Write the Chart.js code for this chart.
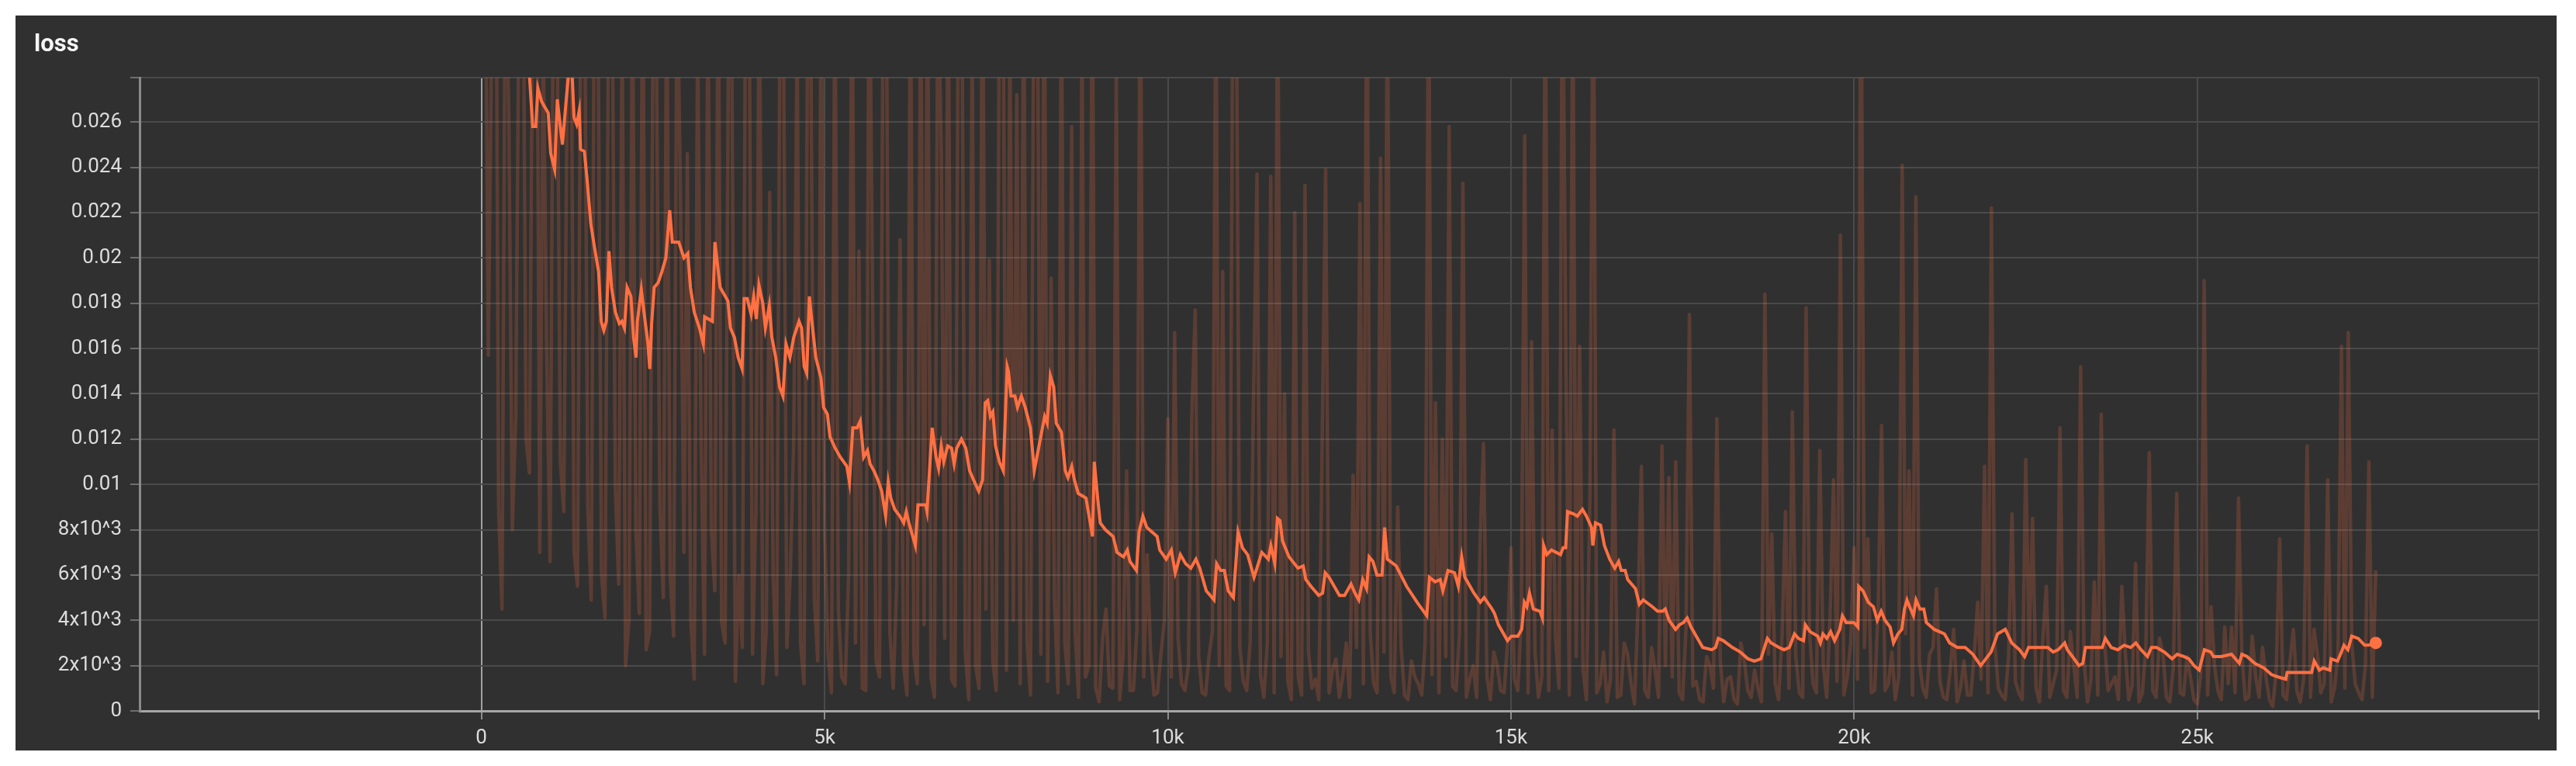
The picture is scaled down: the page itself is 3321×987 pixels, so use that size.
<!DOCTYPE html>
<html>
<head>
<meta charset="utf-8">
<title>loss</title>
<script src="https://cdn.jsdelivr.net/npm/chart.js@4.4.1/dist/chart.umd.min.js"></script>
<style>
  html, body { margin: 0; padding: 0; background: #ffffff; }
  #panel {
    position: absolute; left: 20px; top: 20px;
    width: 3276px; height: 947px; background: #303030;
  }
  #title {
    position: absolute; left: 24px; top: 20px;
    font-family: Roboto, "Noto Sans", sans-serif; font-size: 31px; font-weight: 700;
    line-height: 31px; color: #f5f5f5;
  }
  #chartBox { position: absolute; left: 0; top: 0; width: 3276px; height: 947px; }
</style>
</head>
<body>
<div id="panel">
  <div id="chartBox"><canvas id="lossChart"></canvas></div>
  <div id="title">loss</div>
</div>
<script>
// loss values are written in units of 1e-3
const MILLI = 1e-3;

// raw loss, one value every 100 steps, from step 0
const RAW_STEP = 100;
const rawLoss = [
  60, 15.7, 45, 4.5, 26, 13, 38, 10.5, 40, 30,
  6.6, 32, 8.8, 36, 5.5, 34, 4.9, 30, 4.1, 35,
  5.6, 2.0, 33, 4.3, 2.7, 30, 9, 33, 3.3, 22.8,
  24.6, 1.4, 12, 32, 5.3, 3.9, 30, 1.3, 2.8, 33,
  9, 1.2, 22.9, 1.6, 31, 6, 30, 1.2, 29, 2.2,
  8, 0.8, 4.5, 1.2, 35, 20.3, 0.9, 17.9, 1.5, 32,
  1.0, 20.8, 0.7, 2.5, 33, 34, 0.6, 24.6, 35, 1.1,
  32, 0.5, 2.0, 36, 19.9, 0.9, 33, 30, 27.2, 34,
  0.7, 33, 35, 19.1, 0.8, 3, 25.8, 0.6, 1.5, 34,
  0.4, 4.5, 1.0, 0.5, 10.6, 0.9, 35, 6.9, 0.7, 2.5,
  12.9, 16.7, 1.2, 2.0, 17.7, 0.8, 2.4, 33, 19.4, 0.9,
  32, 1.3, 3.0, 23.7, 0.6, 23.6, 34, 14.0, 0.5, 1.5,
  23.2, 1.0, 0.5, 23.9, 1.8, 0.6, 3.0, 10.4, 22.4, 35,
  1.2, 24.4, 33, 0.8, 2.8, 0.5, 1.5, 0.7, 34, 13.6,
  12.0, 25.8, 0.9, 23.3, 1.4, 0.6, 11.8, 0.5, 2.0, 0.8,
  7.2, 0.9, 25.4, 16.3, 0.6, 34, 12.4, 1.0, 15.7, 33,
  16.1, 0.5, 35, 1.2, 0.4, 12.4, 0.7, 2.5, 0.3, 10.8,
  0.6, 1.8, 11.7, 10.3, 11.0, 0.5, 17.5, 1.3, 0.4, 2.0,
  12.9, 0.4, 1.5, 0.3, 2.2, 0.6, 1.0, 18.4, 7.8, 0.5,
  8.8, 13.2, 0.8, 17.8, 1.2, 11.5, 0.6, 10.2, 21.0, 1.5,
  7.2, 35, 7.6, 0.9, 12.6, 1.2, 0.5, 24.1, 10.6, 22.7,
  1.0, 2.5, 5.4, 0.6, 1.8, 0.4, 2.2, 0.7, 4.8, 10.8,
  22.2, 1.0, 0.5, 8.7, 0.8, 11.1, 8.5, 0.4, 5.5, 1.2,
  12.5, 0.6, 2.0, 15.2, 0.4, 5.7, 13.1, 0.9, 1.5, 5.5,
  0.5, 6.5, 0.8, 11.4, 0.6, 2.5, 0.4, 9.6, 0.7, 1.5,
  0.3, 19.0, 4.6, 0.9, 3.7, 3.7, 9.4, 0.5, 3.3, 0.6,
  1.5, 0.2, 7.6, 0.5, 3.6, 0.4, 11.7, 3.6, 0.8, 10.2,
  1.0, 16.1, 16.7, 1.2, 0.5, 11.0, 6.2
];
// raw loss at the steps in between (50, 150, 250, ...)
const rawLossHalf = [
  38, 30, 9, 35, 8, 33, 12, 34, 7, 16,
  34, 11, 28, 7, 33, 9, 36, 6, 30, 10,
  31, 4, 8, 35, 3.5, 29, 5, 6, 33, 7,
  4, 30, 2.5, 8, 34, 3, 28, 6, 33, 2.5,
  34, 3.5, 6, 31, 2.8, 12, 3, 29, 5, 33,
  2.5, 33, 1.5, 6, 3, 1.0, 35, 2.2, 30, 3.5,
  5.5, 2.0, 34, 1.2, 3.8, 1.5, 33, 3.2, 1.4, 34,
  2.6, 30, 1.0, 4.5, 2.2, 35, 1.8, 4.0, 1.2, 3.0,
  34, 2.5, 1.3, 4.8, 33, 1.2, 3.5, 30, 2.0, 1.0,
  3.2, 1.1, 28, 2.5, 0.9, 3.6, 1.5, 2.6, 0.8, 4.0,
  1.5, 3.2, 0.9, 13, 2.4, 0.7, 3.5, 2.0, 1.1, 34,
  2.8, 0.9, 14, 1.6, 3.0, 0.8, 2.4, 1.3, 22, 0.7,
  2.6, 1.4, 12, 0.8, 2.3, 1.5, 0.6, 2.8, 1.2, 3.4,
  0.8, 2.6, 1.5, 9, 0.7, 2.2, 1.2, 3.0, 1.6, 0.8,
  2.4, 1.1, 3.4, 0.6, 2.0, 7.5, 1.5, 2.6, 0.9, 3.0,
  1.4, 4.0, 0.8, 2.6, 1.5, 0.9, 3.2, 35, 0.7, 2.4,
  1.8, 9.5, 0.8, 2.6, 1.4, 0.6, 3.0, 1.2, 4.5, 0.9,
  2.8, 0.6, 2.0, 1.5, 0.8, 3.6, 1.1, 0.5, 2.4, 1.0,
  2.2, 1.4, 0.5, 3.0, 0.9, 1.8, 0.4, 2.5, 1.2, 3.3,
  1.0, 2.4, 0.6, 3.5, 0.8, 2.0, 4.2, 1.3, 0.7, 3.0,
  1.4, 2.8, 0.8, 4.5, 0.9, 2.6, 1.5, 3.4, 0.7, 2.2,
  0.6, 2.8, 1.3, 0.5, 3.6, 1.0, 0.7, 2.5, 1.4, 0.8,
  3.0, 0.7, 2.4, 1.3, 0.5, 2.8, 1.0, 3.2, 0.6, 1.8,
  0.9, 3.5, 0.6, 2.2, 1.4, 0.7, 3.0, 1.2, 0.5, 2.6,
  1.1, 0.4, 2.8, 0.9, 3.2, 0.6, 1.9, 0.8, 2.4, 0.5,
  1.6, 0.7, 2.0, 0.5, 1.2, 0.8, 2.4, 0.6, 1.5, 2.8,
  0.5, 1.8, 0.7, 2.2, 0.9, 1.4, 0.6, 2.5, 1.2, 0.4,
  2.5, 1.0, 3.0, 0.8, 2.0, 0.6
];

// smoothed loss, read at its corners
const smoothSteps = [
  0, 150, 300, 450, 600, 690, 747, 792, 822, 878, 973, 1010, 1067, 1105, 1180, 1236, 1285, 1319, 1349, 1387,
  1425, 1444, 1500, 1538, 1594, 1651, 1707, 1745, 1783, 1820, 1858, 1896, 1952, 2009, 2046, 2084, 2122, 2178, 2216, 2253,
  2272, 2329, 2385, 2423, 2453, 2480, 2517, 2574, 2630, 2687, 2743, 2781, 2875, 2951, 3007, 3045, 3101, 3177, 3233, 3252,
  3365, 3402, 3478, 3591, 3628, 3685, 3741, 3798, 3828, 3873, 3930, 3967, 4005, 4043, 4099, 4137, 4194, 4231, 4288, 4344,
  4393, 4438, 4495, 4551, 4627, 4665, 4702, 4740, 4778, 4815, 4872, 4947, 4985, 5041, 5079, 5154, 5230, 5324, 5362, 5411,
  5475, 5520, 5569, 5625, 5663, 5719, 5776, 5832, 5889, 5927, 5964, 6021, 6096, 6153, 6190, 6228, 6322, 6360, 6473, 6492,
  6567, 6624, 6661, 6699, 6737, 6793, 6850, 6887, 6925, 6993, 7057, 7113, 7170, 7245, 7302, 7339, 7377, 7415, 7452, 7490,
  7546, 7603, 7660, 7678, 7716, 7773, 7810, 7867, 7923, 7999, 8055, 8149, 8206, 8243, 8289, 8338, 8375, 8451, 8507, 8545,
  8601, 8639, 8696, 8808, 8865, 8903, 8929, 8978, 9016, 9091, 9204, 9260, 9355, 9411, 9449, 9543, 9581, 9637, 9694, 9845,
  9883, 9977, 10052, 10109, 10184, 10259, 10335, 10410, 10466, 10561, 10674, 10711, 10768, 10824, 10881, 10956, 11024, 11088, 11163, 11257,
  11370, 11465, 11502, 11559, 11597, 11634, 11672, 11766, 11898, 11973, 12011, 12086, 12199, 12256, 12293, 12350, 12501, 12576, 12670, 12727,
  12783, 12840, 12896, 12934, 12990, 13047, 13122, 13160, 13198, 13329, 13480, 13631, 13774, 13812, 13895, 13970, 14008, 14083, 14177, 14233,
  14282, 14328, 14460, 14554, 14610, 14723, 14761, 14818, 14950, 15006, 15100, 15157, 15195, 15232, 15270, 15326, 15421, 15458, 15477, 15522,
  15590, 15722, 15760, 15797, 15824, 15910, 15967, 16042, 16099, 16174, 16193, 16231, 16306, 16362, 16438, 16513, 16569, 16607, 16664, 16701,
  16814, 16871, 16927, 17059, 17135, 17210, 17248, 17304, 17398, 17455, 17512, 17568, 17624, 17700, 17794, 17926, 17982, 18020, 18095, 18227,
  18340, 18453, 18547, 18642, 18736, 18792, 18905, 18980, 19056, 19131, 19188, 19263, 19289, 19357, 19470, 19508, 19546, 19602, 19658, 19715,
  19791, 19829, 19885, 19942, 19998, 20055, 20066, 20130, 20205, 20281, 20337, 20394, 20450, 20525, 20574, 20638, 20695, 20733, 20770, 20808,
  20865, 20902, 20959, 21015, 21053, 21166, 21241, 21316, 21392, 21505, 21618, 21731, 21844, 21919, 21995, 22089, 22202, 22296, 22409, 22484,
  22541, 22635, 22710, 22823, 22899, 22974, 23068, 23106, 23181, 23275, 23332, 23370, 23445, 23539, 23615, 23660, 23746, 23841, 23935, 24029,
  24104, 24180, 24274, 24331, 24406, 24519, 24632, 24707, 24802, 24877, 24952, 25028, 25103, 25197, 25235, 25348, 25498, 25612, 25649, 25725,
  25838, 25969, 26082, 26177, 26290, 26308, 26403, 26516, 26666, 26704, 26779, 26836, 26930, 26949, 27043, 27100, 27137, 27194, 27250, 27344,
  27438, 27495, 27600
];
const smoothLoss = [
  60, 48, 40, 34, 30.5, 28.5, 25.8, 25.8, 27.5, 26.9, 26.4, 24.6, 23.9, 27.0, 25.0, 27.0, 28.6, 28.3, 26.2, 25.9,
  26.5, 24.8, 24.7, 23.5, 21.5, 20.4, 19.4, 17.2, 16.8, 17.2, 20.3, 18.7, 17.6, 17.1, 17.2, 16.9, 18.7, 18.3, 16.5, 15.6,
  17.2, 18.6, 17.2, 16.3, 15.1, 17.1, 18.7, 18.9, 19.4, 20.0, 22.1, 20.7, 20.7, 20.0, 20.2, 18.7, 17.6, 16.9, 16.2, 17.4,
  17.2, 20.7, 18.7, 18.1, 16.9, 16.5, 15.6, 15.1, 18.2, 18.2, 17.5, 18.3, 17.3, 18.8, 18.0, 16.9, 17.9, 16.5, 15.6, 14.3,
  13.9, 16.2, 15.6, 16.5, 17.2, 16.9, 15.2, 14.9, 18.3, 17.2, 15.6, 14.7, 13.4, 13.1, 12.1, 11.6, 11.2, 10.8, 10.1, 12.5,
  12.5, 12.8, 11.2, 11.5, 10.9, 10.6, 10.2, 9.7, 8.6, 10.1, 9.4, 8.9, 8.6, 8.3, 8.8, 8.3, 7.3, 9.1, 9.1, 8.8,
  12.5, 11.2, 10.7, 11.7, 11.0, 11.7, 11.6, 10.9, 11.6, 12.0, 11.6, 10.6, 10.2, 9.7, 10.2, 13.6, 13.7, 13.0, 13.2, 11.7,
  11.0, 10.6, 15.2, 15.0, 13.9, 13.9, 13.4, 13.9, 13.4, 12.5, 10.6, 12.1, 13.0, 12.7, 14.8, 14.3, 12.7, 12.3, 10.6, 10.3,
  10.8, 10.2, 9.6, 9.4, 8.4, 7.7, 11.0, 9.4, 8.3, 8.0, 7.7, 7.0, 6.8, 7.1, 6.6, 6.2, 7.9, 8.6, 8.1, 7.7,
  7.1, 6.7, 7.1, 6.1, 6.9, 6.5, 6.3, 6.7, 6.3, 5.3, 4.9, 6.5, 6.2, 6.2, 5.3, 5.0, 7.9, 7.2, 6.9, 5.9,
  7.0, 6.7, 7.3, 6.5, 8.5, 8.4, 7.5, 6.8, 6.3, 6.4, 5.8, 5.5, 5.1, 5.2, 6.1, 5.9, 5.1, 5.1, 5.6, 5.2,
  4.9, 5.8, 5.4, 6.8, 6.6, 6.0, 6.0, 8.1, 6.7, 6.4, 5.5, 4.8, 4.2, 5.9, 5.7, 5.8, 5.3, 6.2, 6.1, 5.5,
  6.8, 5.9, 5.2, 4.8, 5.0, 4.5, 4.3, 3.8, 3.1, 3.3, 3.3, 3.6, 4.8, 4.6, 5.2, 4.5, 4.4, 4.1, 7.3, 6.9,
  7.1, 6.9, 7.2, 7.2, 8.8, 8.7, 8.6, 8.9, 8.6, 8.1, 7.3, 8.3, 8.2, 7.3, 6.7, 6.3, 6.6, 6.2, 6.2, 5.8,
  5.4, 4.7, 4.9, 4.6, 4.4, 4.4, 4.5, 4.0, 3.6, 3.8, 3.9, 4.1, 3.7, 3.3, 2.8, 2.7, 2.8, 3.2, 3.1, 2.8,
  2.6, 2.3, 2.2, 2.3, 3.2, 3.0, 2.8, 2.7, 2.8, 3.4, 3.2, 3.1, 3.8, 3.5, 3.3, 3.0, 3.4, 3.2, 3.5, 3.1,
  3.6, 4.2, 3.9, 3.9, 3.9, 3.7, 5.5, 5.3, 4.8, 4.6, 4.0, 4.4, 4.0, 3.7, 3.0, 3.4, 3.6, 4.5, 4.9, 4.6,
  4.2, 4.9, 4.5, 4.5, 3.9, 3.6, 3.5, 3.4, 3.0, 2.8, 2.8, 2.5, 2.0, 2.3, 2.6, 3.4, 3.6, 3.0, 2.7, 2.4,
  2.8, 2.8, 2.8, 2.8, 2.6, 2.7, 3.0, 2.7, 2.4, 2.0, 2.1, 2.8, 2.8, 2.8, 2.8, 3.2, 2.8, 2.7, 2.9, 2.8,
  3.0, 2.7, 2.4, 2.8, 2.8, 2.6, 2.3, 2.5, 2.4, 2.3, 2.0, 1.8, 2.7, 2.6, 2.4, 2.4, 2.5, 2.1, 2.5, 2.4,
  2.1, 1.9, 1.6, 1.5, 1.4, 1.7, 1.7, 1.7, 1.7, 2.2, 1.8, 1.9, 1.8, 2.3, 2.2, 2.6, 2.9, 2.7, 3.3, 3.2,
  2.9, 2.9, 3.0
];

// axes
const xMin = -4980;
const xMax = 29975;
const xTickValues = [0, 5000, 10000, 15000, 20000, 25000];
const xTickLabels = ['0', '5k', '10k', '15k', '20k', '25k'];
const yMax = 0.02796;
const yTickValues = [0, 0.002, 0.004, 0.006, 0.008, 0.01, 0.012, 0.014, 0.016, 0.018, 0.02, 0.022, 0.024, 0.026];
const yTickLabels = ['0', '2x10^3', '4x10^3', '6x10^3', '8x10^3', '0.01', '0.012', '0.014', '0.016', '0.018', '0.02', '0.022', '0.024', '0.026'];

const ORANGE = '#ff7043';
const RAW_COLOR = 'rgba(255, 112, 67, 0.21)';
const GRID = '#4a4a4a';
const LABEL = '#dcdcdc';
const tickFont = { family: 'Roboto', size: 26 };

// merge the two raw arrays in step order
const rawPoints = [];
rawLoss.forEach((v, i) => {
  rawPoints.push({ x: i * RAW_STEP, y: v * MILLI });
  if (i < rawLossHalf.length) {
    rawPoints.push({ x: i * RAW_STEP + RAW_STEP / 2, y: rawLossHalf[i] * MILLI });
  }
});
const smoothPoints = smoothSteps.map((s, i) => ({ x: s, y: smoothLoss[i] * MILLI }));
const lastIndex = smoothPoints.length - 1;

const ctx = document.getElementById('lossChart').getContext('2d');
const lossChart = new Chart(ctx, {
  type: 'line',
  data: {
    datasets: [{
      label: 'loss (smoothed)',
      data: smoothPoints,
      borderColor: ORANGE,
      backgroundColor: ORANGE,
      borderWidth: 4,
      pointRadius: (c) => c.dataIndex === lastIndex ? 8 : 0,
      pointBorderWidth: 0,
      pointBackgroundColor: ORANGE,
      tension: 0,
      order: 0
    }, {
      label: 'loss',
      data: rawPoints,
      borderColor: RAW_COLOR,
      borderWidth: 4.5,
      borderJoinStyle: 'round',
      pointRadius: 0,
      tension: 0,
      order: 1
    }]
  },
  options: {
    responsive: true,
    maintainAspectRatio: false,
    animation: false,
    events: [],
    layout: { padding: { top: 80, right: 23, bottom: 0, left: 0 } },
    plugins: {
      legend: { display: false },
      tooltip: { enabled: false }
    },
    scales: {
      x: {
        type: 'linear',
        min: xMin,
        max: xMax,
        afterBuildTicks: (scale) => {
          scale.ticks = xTickValues.map(v => ({ value: v })).concat([{ value: xMax }]);
        },
        afterFit: (scale) => { scale.height = 51; },
        ticks: {
          autoSkip: false,
          maxRotation: 0,
          padding: 9,
          color: LABEL,
          font: tickFont,
          callback: (value, index) => xTickLabels[index] ?? ''
        },
        grid: {
          color: (c) => c.tick && c.tick.value === 0 ? '#a2a2a2' : GRID,
          lineWidth: 2,
          tickColor: '#8c8c8c',
          tickLength: 11
        },
        border: { color: '#a6a6a6', width: 3 }
      },
      y: {
        type: 'linear',
        min: 0,
        max: yMax,
        afterBuildTicks: (scale) => {
          scale.ticks = yTickValues.map(v => ({ value: v })).concat([{ value: yMax }]);
        },
        afterFit: (scale) => { scale.width = 160; },
        ticks: {
          autoSkip: false,
          padding: 11,
          color: LABEL,
          font: tickFont,
          callback: (value, index) => yTickLabels[index] ?? ''
        },
        grid: {
          color: GRID,
          lineWidth: 2,
          tickColor: '#6e6e6e',
          tickLength: 12
        },
        border: { color: '#8a8a8a', width: 3 }
      }
    }
  }
});
</script>
</body>
</html>
